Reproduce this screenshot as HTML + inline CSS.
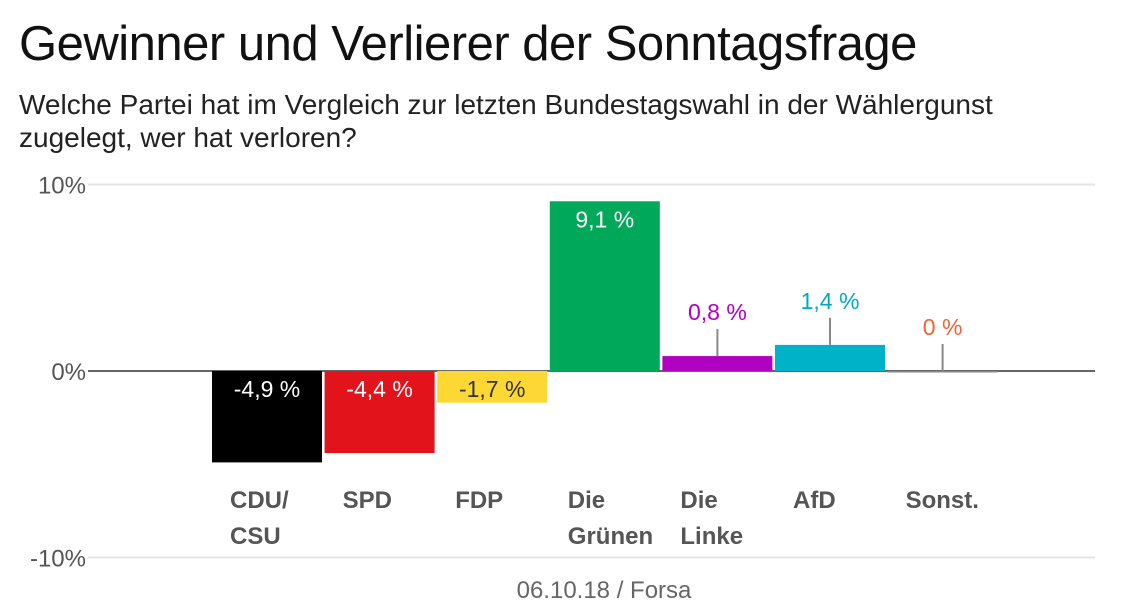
<!DOCTYPE html>
<html><head><meta charset="utf-8"><style>
body{margin:0;background:#fff;width:1139px;height:615px;overflow:hidden;font-family:"Liberation Sans",sans-serif;}
#title{position:absolute;left:19px;top:16px;font-size:49px;color:#111;white-space:nowrap;letter-spacing:-0.5px}
#sub{position:absolute;left:19px;top:88px;font-size:28px;line-height:33px;color:#222;width:1080px}
svg{position:absolute;left:0;top:0}
</style></head><body>
<div id="title">Gewinner und Verlierer der Sonntagsfrage</div>
<div id="sub">Welche Partei hat im Vergleich zur letzten Bundestagswahl in der Wählergunst<br>zugelegt, wer hat verloren?</div>
<svg id="c" width="1139" height="615"></svg>
<script>
const categories=[["CDU/","CSU"],["SPD"],["FDP"],["Die","Grünen"],["Die","Linke"],["AfD"],["Sonst."]];
const values=[-4.9,-4.4,-1.7,9.1,0.8,1.4,0];
const valueLabels=["-4,9 %","-4,4 %","-1,7 %","9,1 %","0,8 %","1,4 %","0 %"];
const colors=["#000000","#e3131b","#fdd835","#00a85a","#b000c0","#00b2c8","#888888"];
const labelColors=["#fff","#fff","#333","#fff","#b000c0","#00a9c6","#f0623a"];
const ticks=[10,0,-10];
const tickLabels=["10%","0%","-10%"];
const NS="http://www.w3.org/2000/svg";
const svg=document.getElementById('c');
const y=v=>371-v*18.65;
const xb=i=>212+i*112.6;
const BW=110;
function mk(t,a){const e=document.createElementNS(NS,t);for(const k in a)e.setAttribute(k,a[k]);svg.appendChild(e);return e;}
ticks.forEach((t,i)=>{
 const g=mk('line',{x1:88,x2:1095,y1:y(t),y2:y(t),stroke:t===0?'#666':'#e4e4e4','stroke-width':2});
 
 
 const tx=mk('text',{x:86,y:y(t)+9,'text-anchor':'end','font-size':24,fill:'#555'});
 tx.textContent=tickLabels[i];
 
 
});
values.forEach((v,i)=>{
 const x=xb(i);
 const top=Math.min(y(v),y(0)),h=Math.abs(y(v)-y(0));
 const r=mk('rect',{x:x,y:top,width:BW,height:Math.max(h,1.5),fill:colors[i]});
 
 
 const inside=Math.abs(v)>1.5;
 let ly;
 if(inside){ly=top+26;}
 else{
  const l=mk('line',{x1:x+BW/2,x2:x+BW/2,y1:top,y2:top-27,stroke:'#888','stroke-width':2});
  
  
  ly=top-36;
 }
 const t=mk('text',{x:x+BW/2,y:ly,'text-anchor':'middle','font-size':23,fill:labelColors[i]});
 t.textContent=valueLabels[i];
 
 
 categories[i].forEach((s,j)=>{
  const c=mk('text',{x:x+18,y:508+j*36,'font-size':24,'font-weight':'bold',fill:'#555'});
  c.textContent=s;
  
  
 });
});
const src=mk('text',{x:604,y:598,'text-anchor':'middle','font-size':24,fill:'#666'});
src.textContent="06.10.18 / Forsa";


</script>
</body></html>
